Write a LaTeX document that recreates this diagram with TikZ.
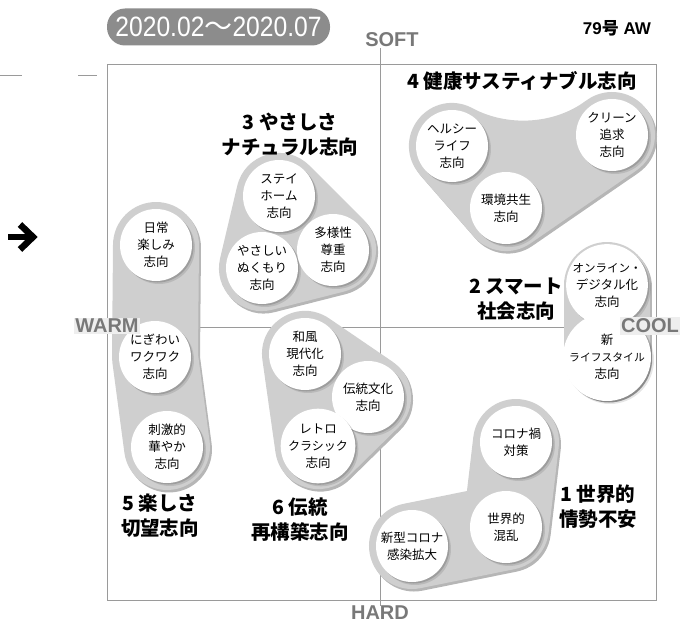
\documentclass[tikz,border=0pt]{standalone}
\usepackage{fontspec}
\setmainfont{Liberation Sans}
\newfontfamily\jp{Noto Sans CJK JP}
\newfontfamily\narrowsans[FakeStretch=0.88]{Liberation Sans}
\usetikzlibrary{backgrounds}
\definecolor{framec}{HTML}{9A9A9A}
\definecolor{hullc}{HTML}{CFCFCF}
\definecolor{hulls}{HTML}{B6B6B6}
\definecolor{labc}{HTML}{787878}
\definecolor{pillc}{HTML}{8C8C8C}
\definecolor{labbg}{HTML}{EEEEEE}
\tikzset{
  bub/.style={circle, fill=white, minimum size=72pt, inner sep=0pt, align=center,
    font=\jp\fontsize{12.5}{17}\selectfont,
    preaction={fill=black, opacity=0.10, transform canvas={shift={(3pt,-3pt)}}},
    preaction={fill=black, opacity=0.15, transform canvas={shift={(1.5pt,-1.5pt)}}}},
  hull/.style={draw=hullc, line width=86pt, line join=round, line cap=round},
  hullsh/.style={draw=hulls, line width=86pt, line join=round, line cap=round,
    transform canvas={shift={(2pt,-2.5pt)}}},
  grptitle/.style={font=\jp\bfseries\fontsize{19.5}{25}\selectfont, align=center, inner sep=0pt},
  axlab/.style={font=\bfseries\fontsize{20}{20}\selectfont, text=labc, inner sep=1.5pt},
  axline/.style={draw=framec, line width=0.8pt},
}
\begin{document}
\begin{tikzpicture}[x=1pt,y=-1pt]
\useasboundingbox (0,0) rectangle (681,626);
% bubbles
\node[bub] (e1) at (156,245) {日常\\楽しみ\\志向};
\node[bub] (e2) at (155,357) {にぎわい\\ワクワク\\志向};
\node[bub] (e3) at (167,447) {刺激的\\華やか\\志向};
\node[bub] (c1) at (279,196) {ステイ\\ホーム\\志向};
\node[bub] (c2) at (262,268) {やさしい\\ぬくもり\\志向};
\node[bub] (c3) at (333,250) {多様性\\尊重\\志向};
\node[bub] (h1) at (452,146) {ヘルシー\\ライフ\\志向};
\node[bub] (h2) at (612,135) {クリーン\\追求\\志向};
\node[bub] (h3) at (506,208) {環境共生\\志向};
\node[bub] (s1) at (607,285) {{\fontsize{11.5}{17}\selectfont オンライン・}\\デジタル化\\志向};
\node[bub] (s2) at (607,357) {新\\{\fontsize{10.8}{17}\selectfont ライフスタイル}\\志向};
\node[bub] (t1) at (305,354) {和風\\現代化\\志向};
\node[bub] (t2) at (368,397) {伝統文化\\志向};
\node[bub] (t3) at (318,446) {レトロ\\{\fontsize{12}{17}\selectfont クラシック}\\志向};
\node[bub] (k1) at (516,442) {コロナ禍\\対策};
\node[bub] (k2) at (506,527) {世界的\\混乱};
\node[bub] (k3) at (412,546) {新型コロナ\\感染拡大};
\begin{scope}[on background layer]
  \draw[axline] (107,64) rectangle (656,600);
  \coordinate (vtop) at (380,48);
  \coordinate (vbot) at (380,606);
  \coordinate (hl) at (107,327);
  \coordinate (hr) at (656,327);
  \draw[axline] (vtop) -- (vbot);
  \draw[axline] (hl) -- (hr);
  % hull shadows
  \draw[hullsh] (e1.center) -- (e2.center) -- (e3.center);
  \draw[hullsh, fill=hulls] (c1.center) -- (c3.center) -- (c2.center) -- cycle;
  \draw[hullsh, fill=hulls] (h1.center) .. controls (500,172) and (565,170) .. (h2.center) -- (h3.center) -- cycle;
  \draw[hullsh] (s1.center) -- (s2.center);
  \draw[hullsh, fill=hulls] (t1.center) -- (t2.center) -- (t3.center) -- cycle;
  \draw[hullsh] (k1.center) -- (k2.center) -- (k3.center);
  % hulls
  \draw[hull] (e1.center) -- (e2.center) -- (e3.center);
  \draw[hull, fill=hullc] (c1.center) -- (c3.center) -- (c2.center) -- cycle;
  \draw[hull, fill=hullc] (h1.center) .. controls (500,172) and (565,170) .. (h2.center) -- (h3.center) -- cycle;
  \draw[hull] (s1.center) -- (s2.center);
  \draw[hull, fill=hullc] (t1.center) -- (t2.center) -- (t3.center) -- cycle;
  \draw[hull] (k1.center) -- (k2.center) -- (k3.center);
\end{scope}
% group titles
\node[grptitle] (g4) at (522,81) {4 健康サスティナブル志向};
\node[grptitle] (g3) at (290,134.5) {3 やさしさ\\ナチュラル志向};
\node[grptitle] (g2) at (516,299.5) {2 スマート\\社会志向};
\node[grptitle] (g5) at (160,516) {5 楽しさ\\切望志向};
\node[grptitle] (g6) at (300,520) {6 伝統\\再構築志向};
\node[grptitle] (g1) at (598,507) {1 世界的\\情勢不安};
% axis labels
\node[axlab] (soft) at (392,40) {SOFT};
\node[axlab] (hard) at (380,613) {HARD};
\node[axlab, fill=labbg] (warm) at (107,326) {WARM};
\node[axlab, fill=labbg] (cool) at (650,326) {COOL};
% header
\node[rounded corners=18pt, fill=pillc, text=white, minimum width=223pt, minimum height=37pt,
      inner sep=0pt, font=\narrowsans\fontsize{28}{28}\selectfont] (pill) at (218.5,27) {2020.02{\jp 〜}2020.07};
\node[font=\bfseries\fontsize{17}{17}\selectfont, inner sep=0pt] (issue) at (617,28) {79{\jp\bfseries 号} AW};
% dashes
\draw[framec, line width=0.8pt] (0,75) -- (22,75);
\draw[framec, line width=0.8pt] (78,75) -- (97,75);
% arrow
\draw[line width=6.5pt] (8,237) -- (32,237);
\draw[line width=6.5pt, miter limit=10] (20,224.5) -- (33,237) -- (20,249.5);
\end{tikzpicture}
\end{document}
